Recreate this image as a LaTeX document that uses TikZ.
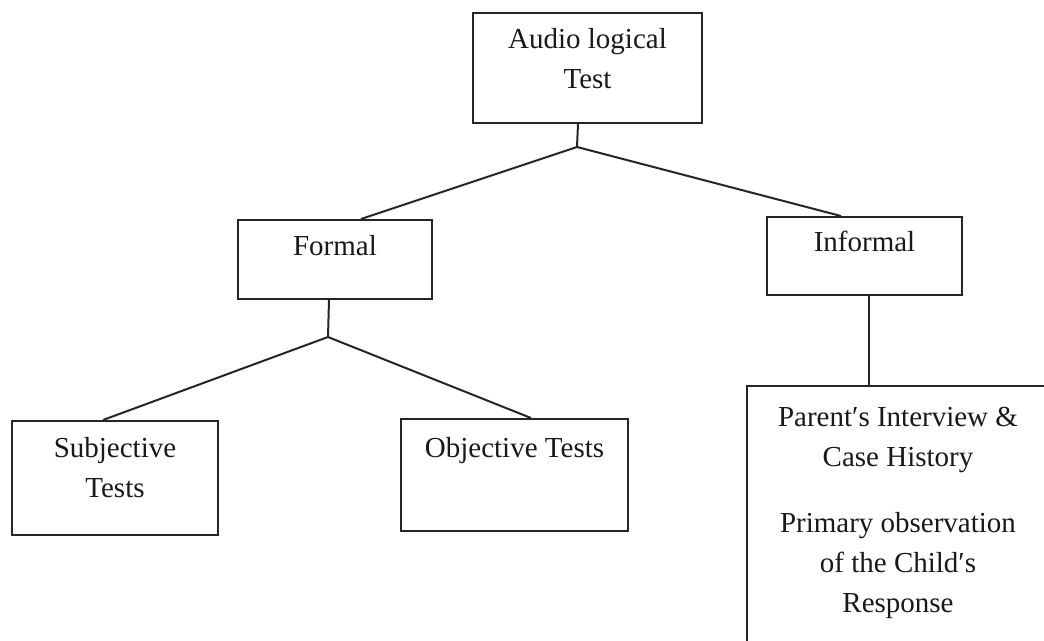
\documentclass[tikz,border=0pt]{standalone}
\usepackage{fontspec}
\setmainfont{Liberation Serif}
\usetikzlibrary{positioning}
\tikzset{
  box/.style={draw=black!85, line width=2pt, anchor=north west, inner sep=0pt},
  txt/.style={font=\fontsize{29}{40}\selectfont, align=center, inner sep=0pt, text=black!90},
  ln/.style={draw=black!85, line width=2pt},
}

\begin{document}
\begin{tikzpicture}[x=1pt, y=-1pt]
\clip (0,0) rectangle (1044,640);
\fill[white] (0,0) rectangle (1044,640);
% boxes
\node[box, minimum width=229pt, minimum height=110pt] (test) at (472,12) {};
\node[box, minimum width=194pt, minimum height=79pt] (form) at (237,219) {};
\node[box, minimum width=195pt, minimum height=78pt] (inform) at (766,216) {};
\node[box, minimum width=206pt, minimum height=114pt] (subj) at (11,420) {};
\node[box, minimum width=227pt, minimum height=112pt] (obj) at (400,418) {};
\node[box, minimum width=302pt, minimum height=280pt] (resp) at (746,385) {};
% texts
\node[txt, below=16pt of test.north] (testT) {Audio logical\\Test};
\node[txt, below=16pt of form.north] (formT) {Formal};
\node[txt, below=15pt of inform.north] (informT) {Informal};
\node[txt, below=17pt of subj.north] (subjT) {Subjective\\Tests};
\node[txt, below=19pt of obj.north] (objT) {Objective Tests};
\node[txt, below=22pt of resp.north] (respT)
  {Parent′s Interview \&\\Case History\\[26pt]Primary observation\\of the Child′s\\Response};
% branches
\coordinate (j1) at (577,147);
\coordinate (j2) at (328,337);
\draw[ln] ([xshift=-9.5pt]test.south) -- (j1);
\draw[ln] (j1) -- ([xshift=26pt]form.north);
\draw[ln] (j1) -- ([xshift=-23.5pt]inform.north);
\draw[ln] ([xshift=-6pt]form.south) -- (j2);
\draw[ln] (j2) -- ([xshift=-12pt]subj.north);
\draw[ln] (j2) -- ([xshift=16.5pt]obj.north);
\draw[ln] ([xshift=4.5pt]inform.south) -- ([xshift=4.5pt]inform.south |- resp.north);
\end{tikzpicture}
\end{document}
